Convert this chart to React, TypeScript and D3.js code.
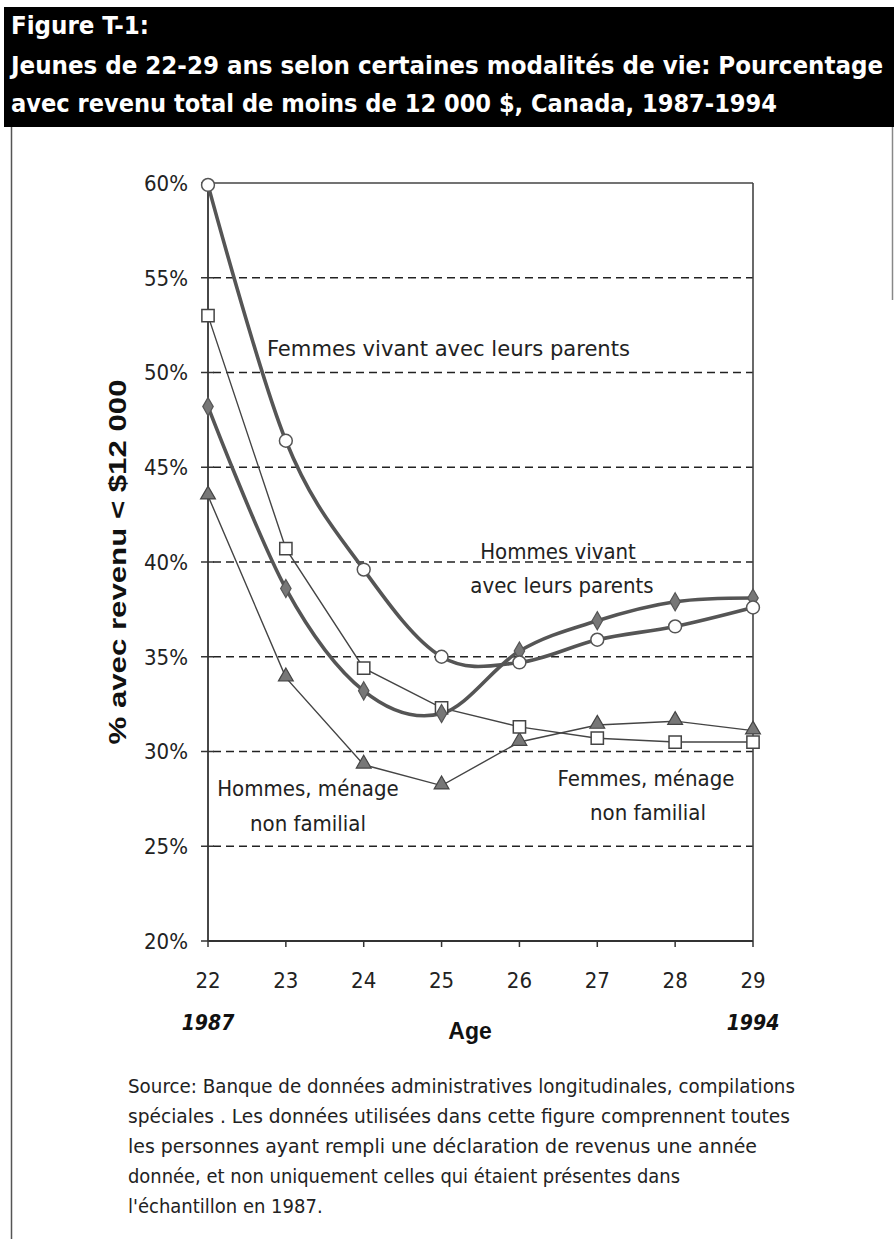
import React from "react";
import * as d3 from "d3";

// ages (x) and the four series, % with income < $12 000
const ages = [22, 23, 24, 25, 26, 27, 28, 29];
const femmesParents = [59.9, 46.4, 39.6, 35.0, 34.7, 35.9, 36.6, 37.6];
const hommesParents = [48.2, 38.6, 33.2, 32.0, 35.3, 36.9, 37.9, 38.1];
const femmesNonFam = [53.0, 40.7, 34.4, 32.3, 31.3, 30.7, 30.5, 30.5];
const hommesNonFam = [43.5, 33.9, 29.3, 28.2, 30.5, 31.4, 31.6, 31.1];
const yTicks = [20, 25, 30, 35, 40, 45, 50, 55, 60];
const gridTicks = [25, 30, 35, 40, 45, 50, 55];

const titleLines = [
  "Figure T-1:",
  "Jeunes de 22-29 ans selon certaines modalités de vie: Pourcentage",
  "avec revenu total de moins de 12 000 $, Canada, 1987-1994",
];
const sourceLines = [
  "Source: Banque de données administratives longitudinales, compilations",
  "spéciales . Les données utilisées dans cette figure comprennent toutes",
  "les personnes ayant rempli une déclaration de revenus une année",
  "donnée, et non uniquement celles qui étaient présentes dans",
  "l'échantillon en 1987.",
];

const narrow = "'Liberation Sans Narrow', 'Arial Narrow', 'DejaVu Sans Condensed', sans-serif";
const wide = "'Liberation Sans', Arial, sans-serif";

const App = () => {
  const W = 894;
  const H = 1239;
  const left = 208, right = 753, top = 183, bottom = 941;

  const x = d3.scaleLinear().domain([22, 29]).range([left, right]);
  const y = d3.scaleLinear().domain([20, 60]).range([bottom, top]);

  const smooth = d3
    .line<number>()
    .x((_, i) => x(ages[i]))
    .y((d) => y(d))
    .curve(d3.curveCardinal.tension(0));
  const straight = d3
    .line<number>()
    .x((_, i) => x(ages[i]))
    .y((d) => y(d));

  const sym = (type: d3.SymbolType, size: number) => d3.symbol().type(type).size(size)() as string;
  const circle = sym(d3.symbolCircle, 130);
  const square = sym(d3.symbolSquare, 150);
  const diamond = sym(d3.symbolDiamond, 95);
  const triangle = sym(d3.symbolTriangle, 95);

  const titleWidths = [138, 872, 766];
  const titleBase = [34, 74, 112];
  const sourceWidths: (number | undefined)[] = [667, 662, 629, 552, undefined];

  return (
    <svg width={W} height={H} style={{ position: "absolute", left: 0, top: 0, background: "#fff" }}>
      {/* title block */}
      <rect x={4} y={7} width={W - 4} height={120} fill="#000" />
      {titleLines.map((t, i) => (
        <text
          key={i}
          x={11}
          y={titleBase[i]}
          fill="#fff"
          fontFamily={narrow}
          fontWeight="bold"
          fontSize={25}
          textLength={titleWidths[i]}
          lengthAdjust="spacingAndGlyphs"
        >
          {t}
        </text>
      ))}

      {/* frame lines of the page */}
      <line x1={11.5} x2={11.5} y1={127} y2={H} stroke="#555" strokeWidth={1.5} />
      <line x1={892.5} x2={892.5} y1={127} y2={300} stroke="#888" strokeWidth={1.5} />

      {/* grid */}
      {gridTicks.map((t) => (
        <line
          key={t}
          x1={left + 5}
          x2={right}
          y1={y(t)}
          y2={y(t)}
          stroke="#222"
          strokeWidth={1.6}
          strokeDasharray="8,5"
        />
      ))}

      {/* plot frame */}
      <line x1={left} x2={right} y1={top} y2={top} stroke="#444" strokeWidth={1.6} />
      <line x1={right} x2={right} y1={top} y2={bottom} stroke="#444" strokeWidth={1.6} />
      <line x1={left} x2={left} y1={top} y2={bottom} stroke="#333" strokeWidth={1.8} />
      <line x1={left} x2={right} y1={bottom} y2={bottom} stroke="#333" strokeWidth={1.8} />

      {/* y ticks */}
      {yTicks.map((t) => (
        <g key={t}>
          <line x1={left - 7} x2={left + 6} y1={y(t)} y2={y(t)} stroke="#333" strokeWidth={1.5} />
          <text
            x={188}
            y={y(t)}
            dy="0.36em"
            textAnchor="end"
            fontFamily={narrow}
            fontSize={22}
            fill="#222"
          >
            {t}%
          </text>
        </g>
      ))}

      {/* x ticks */}
      {ages.map((a) => (
        <g key={a}>
          <line x1={x(a)} x2={x(a)} y1={bottom} y2={bottom + 6} stroke="#333" strokeWidth={1.5} />
          <text
            x={x(a)}
            y={980}
            dy="0.36em"
            textAnchor="middle"
            fontFamily={narrow}
            fontSize={22}
            fill="#222"
          >
            {a}
          </text>
        </g>
      ))}
      <text x={x(22)} y={1030} textAnchor="middle" fontFamily={narrow} fontWeight="bold" fontStyle="italic" fontSize={21} fill="#111">
        1987
      </text>
      <text x={x(29)} y={1030} textAnchor="middle" fontFamily={narrow} fontWeight="bold" fontStyle="italic" fontSize={21} fill="#111">
        1994
      </text>
      <text x={470} y={1039} textAnchor="middle" fontFamily={wide} fontWeight="bold" fontSize={23} fill="#111">
        Age
      </text>
      <text
        transform="translate(126,562) rotate(-90)"
        textAnchor="middle"
        fontFamily={wide}
        fontWeight="bold"
        fontSize={23}
        fill="#111"
        textLength={365}
        lengthAdjust="spacingAndGlyphs"
      >
        % avec revenu &lt; $12 000
      </text>

      {/* series lines */}
      <path d={straight(hommesNonFam) as string} fill="none" stroke="#444" strokeWidth={1.4} />
      <path d={straight(femmesNonFam) as string} fill="none" stroke="#444" strokeWidth={1.4} />
      <path d={smooth(hommesParents) as string} fill="none" stroke="#555" strokeWidth={3.6} />
      <path d={smooth(femmesParents) as string} fill="none" stroke="#555" strokeWidth={3.6} />

      {/* markers */}
      {hommesNonFam.map((v, i) => (
        <path key={"t" + i} d={triangle} transform={`translate(${x(ages[i])},${y(v) - 1})`} fill="#777" stroke="#444" strokeWidth={1.2} />
      ))}
      {femmesNonFam.map((v, i) => (
        <path key={"s" + i} d={square} transform={`translate(${x(ages[i])},${y(v)})`} fill="#fff" stroke="#444" strokeWidth={1.5} />
      ))}
      {hommesParents.map((v, i) => (
        <path key={"d" + i} d={diamond} transform={`translate(${x(ages[i])},${y(v)})`} fill="#777" stroke="#555" strokeWidth={1.2} />
      ))}
      {femmesParents.map((v, i) => (
        <path key={"c" + i} d={circle} transform={`translate(${x(ages[i])},${y(v)})`} fill="#fff" stroke="#555" strokeWidth={1.5} />
      ))}

      {/* series labels */}
      <g fontFamily={narrow} fontSize={22} fill="#222">
        <text x={267} y={356} textLength={363} lengthAdjust="spacingAndGlyphs">
          Femmes vivant avec leurs parents
        </text>
        <text x={558} y={559} textAnchor="middle">Hommes vivant</text>
        <text x={562} y={593} textAnchor="middle">avec leurs parents</text>
        <text x={308} y={796} textAnchor="middle">Hommes, ménage</text>
        <text x={308} y={831} textAnchor="middle">non familial</text>
        <text x={646} y={786} textAnchor="middle">Femmes, ménage</text>
        <text x={648} y={820} textAnchor="middle">non familial</text>
      </g>

      {/* source note */}
      {sourceLines.map((t, i) => (
        <text
          key={i}
          x={128}
          y={1093 + i * 30}
          fontFamily={narrow}
          fontSize={20}
          fill="#222"
          textLength={sourceWidths[i]}
          lengthAdjust={sourceWidths[i] ? "spacingAndGlyphs" : undefined}
        >
          {t}
        </text>
      ))}
    </svg>
  );
};

export default App;
